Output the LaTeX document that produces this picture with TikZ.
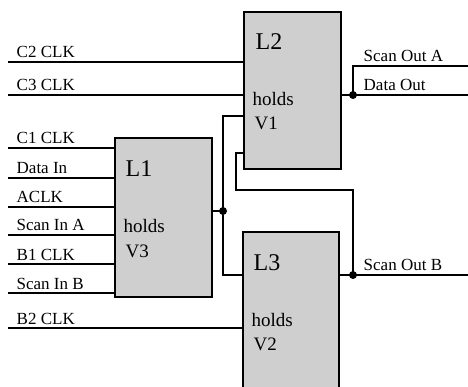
\documentclass[tikz,border=0pt]{standalone}
\usepackage{fontspec}
\setmainfont{Liberation Serif}
\begin{document}
\begin{tikzpicture}[
	x=1pt,
	y=-1pt,
	line width=1.4pt,
	font=\fontsize{17}{19}\selectfont,
	latch/.style={draw, fill=gray!38, minimum width=97pt, inner sep=0pt},
	lab/.style={anchor=base west, inner sep=0pt},
	big/.style={lab, font=\fontsize{24}{26}\selectfont},
	mid/.style={lab, font=\fontsize{19}{21}\selectfont},
	dot/.style={circle, fill=black, inner sep=0pt, minimum size=8pt}
	]
	\useasboundingbox (0,0) rectangle (468,387);
	\clip (0,0) rectangle (468,387);

	% --- latches ---
	\node[latch, minimum height=159pt] (L1) at (163.5,217.5) {};
	\node[latch, minimum height=157pt] (L2) at (292.5,90.5) {};
	\node[latch, minimum width=96pt, minimum height=190pt] (L3) at (291,327) {};

	\node[big] (l1) at (125,177) {L1};
	\node[mid] (h1) at (123,233) {holds};
	\node[mid] (v3) at (125,258) {V3};
	\node[big] (l2) at (255,50) {L2};
	\node[mid] (h2) at (252,106) {holds};
	\node[mid] (v1) at (254,130) {V1};
	\node[big] (l3) at (253,270) {L3};
	\node[mid] (h3) at (251,326) {holds};
	\node[mid] (v2) at (253,350) {V2};

	% --- inputs ---
	\foreach \y/\lab/\n/\tgt in {148/C1 CLK/a/L1, 178/Data In/b/L1, 207/ACLK/c/L1,
		235/Scan In A/d/L1, 264/B1 CLK/e/L1, 293/Scan In B/f/L1,
		62/C2 CLK/g/L2, 95/C3 CLK/h/L2, 328/B2 CLK/k/L3} {
		\coordinate (i\n) at (8,\y);
		\draw (i\n) -- (i\n -| \tgt.west);
		\node[lab] (n\n) at (16,\y-4) {\lab};
	}

	% --- internal nets ---
	\coordinate (j1) at (223,211);
	\coordinate (jA) at (353,95);
	\coordinate (jB) at (353,275);
	\coordinate (fb) at (236,190);
	\draw (j1 -| L1.east) -- (j1);
	\draw (j1) |- (L2.west |- 0,116);
	\draw (j1) |- (L3.west |- 0,275);
	\draw (jB) |- (fb) |- (L2.west |- 0,153);

	% --- outputs ---
	\coordinate (oA) at (468,66);
	\coordinate (oD) at (468,95);
	\coordinate (oB) at (468,275);
	\draw (L2.east |- jA) -- (oD);
	\draw (jA) |- (oA);
	\draw (L3.east |- jB) -- (oB);
	\node[lab] (sA) at (363,62) {Scan Out A};
	\node[lab] (dO) at (363,91) {Data Out};
	\node[lab] (sB) at (363,270) {Scan Out B};

	\foreach \j in {j1, jA, jB}
		\node[dot] (d\j) at (\j) {};
\end{tikzpicture}
\end{document}
